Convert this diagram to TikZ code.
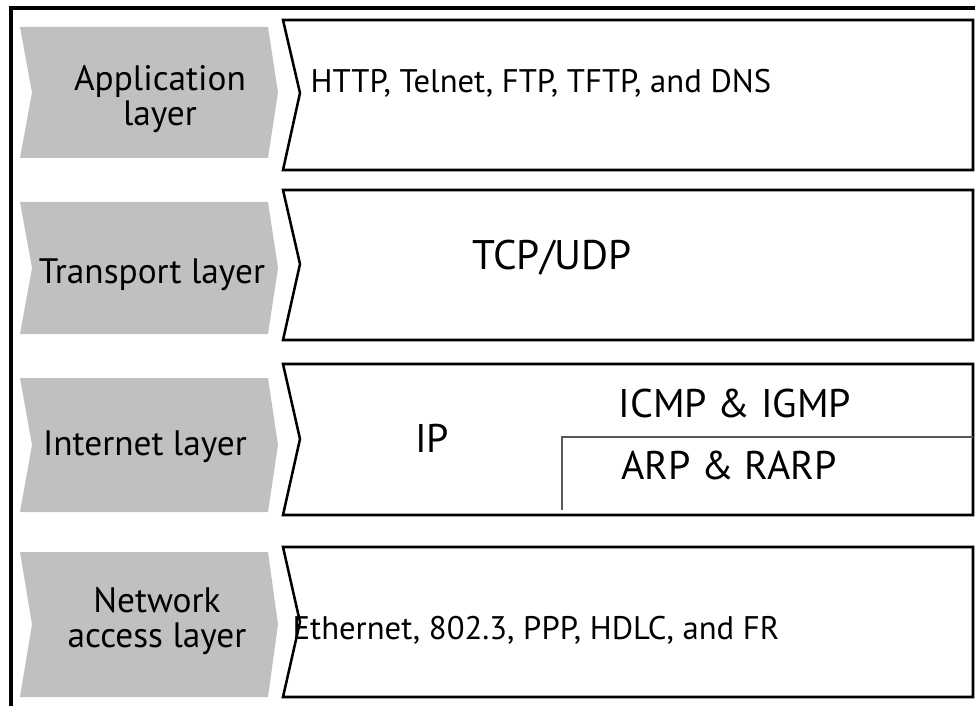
\documentclass[tikz,border=0pt]{standalone}
\usepackage{fontspec}
\setmainfont{PT Sans}
\definecolor{layergray}{RGB}{192,192,192}
\definecolor{splitgray}{RGB}{90,90,90}
\begin{document}
\begin{tikzpicture}[x=0.75pt,y=-0.75pt]
		\tikzstyle{layertag} = [fill=layergray]
		\tikzstyle{protobox} = [draw=black,line width=1.9pt,fill=white,line join=miter]
		\tikzstyle{tagtext} = [align=center,font=\fontsize{26.5}{26.5}\selectfont,inner sep=0pt]
		\tikzstyle{prototext} = [align=center,font=\fontsize{24.5}{28}\selectfont,inner sep=0pt]
		\tikzstyle{bigtext} = [align=center,font=\fontsize{30}{32}\selectfont,inner sep=0pt]
		\useasboundingbox (0,0) rectangle (975,706);
		% frame
		\draw[line width=2.4pt] (11,706) -- (11,8) -- (975,8);

		% gray layer tags
		\fill[layertag] (20,27) -- (268,27) -- (278,92.5) -- (268,158) -- (20,158) -- (32,92.5) -- cycle;
		\fill[layertag] (20,202) -- (268,202) -- (278,268) -- (268,334) -- (20,334) -- (32,268) -- cycle;
		\fill[layertag] (20,378) -- (268,378) -- (278,445) -- (268,512) -- (20,512) -- (32,445) -- cycle;
		\fill[layertag] (20,552) -- (268,552) -- (278,624.5) -- (268,697) -- (20,697) -- (32,624.5) -- cycle;

		% protocol boxes
		\draw[protobox] (283,20) -- (973,20) -- (973,170) -- (283,170) -- (300,93) -- cycle;
		\draw[protobox] (283,190) -- (973,190) -- (973,340) -- (283,340) -- (300,264) -- cycle;
		\draw[protobox] (283,364) -- (973,364) -- (973,515) -- (283,515) -- (300,439) -- cycle;
		\draw[protobox] (283,547) -- (973,547) -- (973,697) -- (283,697) -- (300,622) -- cycle;

		% ICMP / ARP split
		\draw[splitgray,line width=0.8pt] (562,510) -- (562,437) -- (973,437);

		\node[tagtext] (app) at (160,99) {Application\\layer};
		\node[tagtext] (trans) at (152,275) {Transport layer};
		\node[tagtext] (inet) at (145,447) {Internet layer};
		\node[tagtext] (netacc) at (157,621) {Network\\access layer};

		\node[prototext] (apppro) at (541,83) {HTTP, Telnet, FTP, TFTP, and DNS};
		\node[bigtext,font=\fontsize{31}{32}\selectfont] (transpro) at (552,258) {TCP/UDP};
		\node[bigtext] (ip) at (432,438) {IP};
		\node[bigtext] (icmp) at (735,403) {ICMP \& IGMP};
		\node[bigtext] (arp) at (729,465) {ARP \& RARP};
		\node[prototext] (netpro) at (536,630) {Ethernet, 802.3, PPP, HDLC, and FR};
	\end{tikzpicture}
\end{document}
